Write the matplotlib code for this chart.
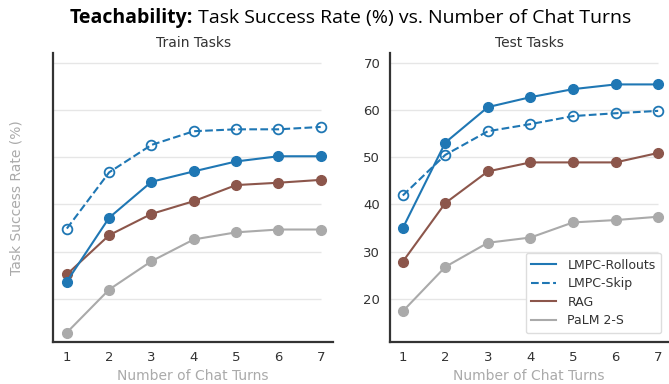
import matplotlib
matplotlib.use("Agg")
import matplotlib.pyplot as plt

turns = [1, 2, 3, 4, 5, 6, 7]

train_rollouts = [23.7, 37.2, 44.8, 47.0, 49.1, 50.2, 50.2]
train_skip = [34.9, 46.8, 52.6, 55.5, 55.9, 55.9, 56.4]
train_rag = [25.2, 33.5, 38.0, 40.7, 44.1, 44.6, 45.2]
train_palm = [12.9, 22.0, 28.0, 32.6, 34.1, 34.7, 34.7]

test_rollouts = [35.0, 53.1, 60.6, 62.7, 64.4, 65.4, 65.4]
test_skip = [41.9, 50.5, 55.5, 57.0, 58.7, 59.3, 59.8]
test_rag = [27.9, 40.3, 47.0, 48.9, 48.9, 48.9, 50.9]
test_palm = [17.4, 26.8, 31.9, 33.0, 36.2, 36.7, 37.4]

grid_levels = [20, 30, 40, 50, 60, 70]

BLUE = "#1f77b4"
BROWN = "#8c564b"
GRAY = "#aaaaaa"
DARK = "#333333"
LABEL = "#aaaaaa"

fig = plt.figure(figsize=(6.69, 3.84), dpi=100)
ax1 = fig.add_axes([0.0797, 0.110, 0.418, 0.752])
ax2 = fig.add_axes([0.583, 0.110, 0.416, 0.752])


def draw(ax, rollouts, skip, rag, palm, xlim, show_y):
    ax.hlines(grid_levels, xlim[0], 7, color="#e6e6e6", lw=1.0, zorder=0)
    ax.plot(turns, palm, "-o", color=GRAY, lw=1.5, ms=7, label="PaLM 2-S", clip_on=False)
    ax.plot(turns, rag, "-o", color=BROWN, lw=1.5, ms=7, label="RAG", clip_on=False)
    ax.plot(turns, skip, "--o", color=BLUE, lw=1.5, ms=7, mfc="none", mew=1.3,
            label="LMPC-Skip", clip_on=False)
    ax.plot(turns, rollouts, "-o", color=BLUE, lw=1.5, ms=7, label="LMPC-Rollouts",
            clip_on=False)
    ax.set_xlim(*xlim)
    ax.set_ylim(10.95, 72.05)
    ax.set_xticks(turns)
    ax.set_yticks(grid_levels)
    for s in ("top", "right"):
        ax.spines[s].set_visible(False)
    for s in ("left", "bottom"):
        ax.spines[s].set_color(DARK)
        ax.spines[s].set_linewidth(1.6)
    ax.tick_params(length=0, labelsize=9.5, labelcolor=DARK, pad=7)
    if not show_y:
        ax.set_yticklabels([])
    ax.set_xlabel("Number of Chat Turns", color=LABEL, fontsize=10, labelpad=3)


draw(ax1, train_rollouts, train_skip, train_rag, train_palm, (0.68, 7.29), False)
draw(ax2, test_rollouts, test_skip, test_rag, test_palm, (0.70, 7.24), True)

ax1.set_ylabel("Task Success Rate (%)", color=LABEL, fontsize=10)
ax1.yaxis.set_label_coords(-0.105, 0.5)
ax1.set_title("Train Tasks", color=DARK, fontsize=10, pad=4)
ax2.set_title("Test Tasks", color=DARK, fontsize=10, pad=4)

handles, labels = ax2.get_legend_handles_labels()
order = [3, 2, 1, 0]
leg = ax2.legend([plt.Line2D([], [], color=handles[i].get_color(),
                             ls=handles[i].get_linestyle(), lw=1.5) for i in order],
                 [labels[i] for i in order], loc="lower right", fontsize=9,
                 frameon=True, edgecolor="#dddddd", framealpha=1,
                 bbox_to_anchor=(0.975, 0.03), borderaxespad=0,
                 handlelength=2.0, handletextpad=0.9, borderpad=0.45,
                 labelspacing=0.45)
for t in leg.get_texts():
    t.set_color(DARK)

# Suptitle in two pieces: bold lead-in followed by regular text, centred as a whole
title_y = 0.953
bold_part = "Teachability:"
rest_part = " Task Success Rate (%) vs. Number of Chat Turns"
fp = dict(fontsize=14, color="black", family="Open Sans", va="center")
t1 = fig.text(0, title_y, bold_part, fontweight="bold", **fp)
t2 = fig.text(0, title_y, rest_part, **fp)
fig.canvas.draw()
r = fig.canvas.get_renderer()
w1 = t1.get_window_extent(r).width
w2 = t2.get_window_extent(r).width
W = fig.bbox.width
start = 350 - (w1 + w2) / 2
t1.set_x(start / W)
t2.set_x((start + w1) / W)

fig.savefig("out.png", dpi=100)
